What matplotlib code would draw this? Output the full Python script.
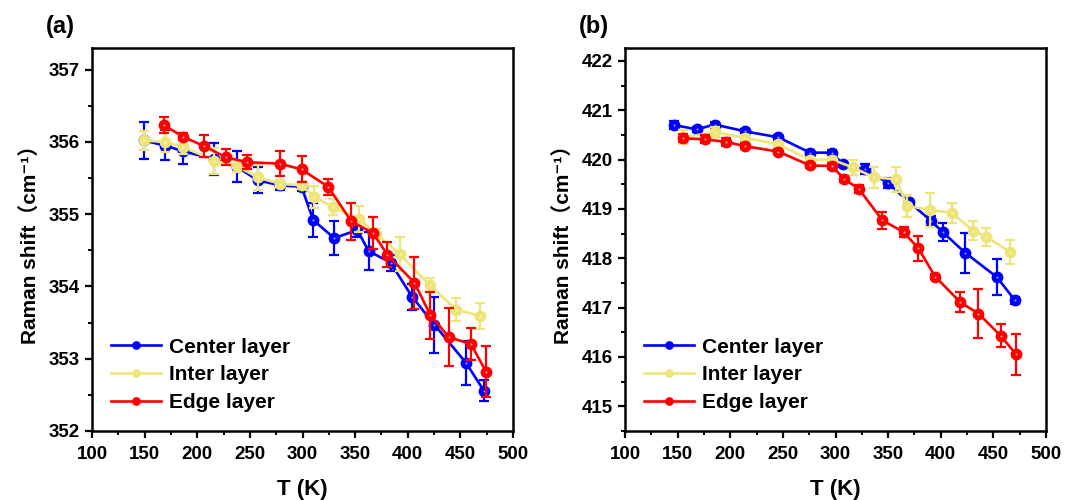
import matplotlib
matplotlib.use("Agg")
import matplotlib.pyplot as plt
from matplotlib.ticker import MultipleLocator

plt.rcParams['font.family'] = ['Liberation Sans', 'Noto Sans CJK SC', 'DejaVu Sans']
plt.rcParams['font.weight'] = 'bold'

# ---------------- Panel (a) data ----------------
a_center_T = [149.0, 169.5, 186.9, 216.3, 237.4, 257.3, 278.5, 299.1, 310.1, 330.0, 352.1, 362.8, 383.7, 404.0, 425.4, 455.5, 472.2]
a_center_v = [356.02, 355.95, 355.87, 355.76, 355.66, 355.47, 355.40, 355.38, 354.92, 354.67, 354.78, 354.49, 354.33, 353.86, 353.47, 352.94, 352.56]
a_center_e = [0.25, 0.20, 0.18, 0.22, 0.22, 0.18, 0.06, 0.06, 0.23, 0.23, 0.10, 0.26, 0.11, 0.18, 0.39, 0.31, 0.14]

a_inter_T = [149.0, 169.5, 186.9, 216.3, 237.4, 257.3, 278.5, 299.1, 311.1, 329.1, 353.4, 370.1, 392.2, 420.7, 446.0, 468.7]
a_inter_v = [356.02, 356.00, 355.93, 355.74, 355.67, 355.51, 355.42, 355.40, 355.24, 355.10, 354.94, 354.73, 354.45, 354.02, 353.68, 353.59]
a_inter_e = [0.13, 0.14, 0.10, 0.18, 0.08, 0.17, 0.05, 0.05, 0.15, 0.11, 0.18, 0.07, 0.23, 0.10, 0.16, 0.18]

a_edge_T = [168.5, 186.9, 206.8, 227.0, 246.9, 278.5, 299.1, 324.4, 346.4, 367.0, 380.6, 406.4, 421.6, 439.1, 460.2, 474.4]
a_edge_v = [356.23, 356.07, 355.94, 355.79, 355.72, 355.70, 355.62, 355.38, 354.90, 354.74, 354.44, 354.05, 353.60, 353.30, 353.20, 352.82]
a_edge_e = [0.11, 0.05, 0.15, 0.11, 0.10, 0.17, 0.18, 0.11, 0.25, 0.22, 0.17, 0.36, 0.33, 0.40, 0.22, 0.35]

# ---------------- Panel (b) data ----------------
b_center_T = [146.6, 168.1, 185.1, 214.4, 245.8, 275.8, 296.3, 307.5, 327.8, 349.8, 370.3, 390.8, 401.8, 423.3, 453.2, 470.5]
b_center_v = [420.70, 420.61, 420.71, 420.57, 420.45, 420.14, 420.14, 419.90, 419.80, 419.53, 419.13, 418.76, 418.53, 418.11, 417.62, 417.15]
b_center_e = [0.08, 0.05, 0.06, 0.05, 0.05, 0.06, 0.05, 0.06, 0.10, 0.10, 0.08, 0.10, 0.18, 0.41, 0.36, 0.07]

b_inter_T = [155.5, 185.1, 214.4, 245.8, 275.8, 296.3, 316.7, 336.3, 357.7, 367.8, 389.9, 410.3, 430.8, 443.4, 465.8]
b_inter_v = [420.45, 420.55, 420.44, 420.31, 419.99, 420.00, 419.84, 419.64, 419.60, 419.06, 418.98, 418.92, 418.56, 418.43, 418.13]
b_inter_e = [0.14, 0.10, 0.06, 0.05, 0.05, 0.05, 0.15, 0.21, 0.25, 0.23, 0.34, 0.20, 0.20, 0.19, 0.25]

b_edge_T = [155.5, 175.6, 195.5, 214.4, 245.8, 275.8, 296.3, 308.2, 322.4, 344.5, 364.7, 378.8, 394.6, 418.5, 435.8, 457.0, 471.7]
b_edge_v = [420.43, 420.41, 420.36, 420.27, 420.16, 419.88, 419.87, 419.61, 419.40, 418.77, 418.53, 418.20, 417.63, 417.11, 416.88, 416.43, 416.05]
b_edge_e = [0.08, 0.08, 0.08, 0.06, 0.05, 0.06, 0.06, 0.06, 0.08, 0.17, 0.10, 0.25, 0.05, 0.20, 0.50, 0.23, 0.42]

labels = ['Center layer', 'Inter layer', 'Edge layer']
colors = ['#0000FF', '#EEE57A', '#FF0000']

fig = plt.figure(figsize=(10.79, 5.0), dpi=100)
ax_a = fig.add_axes([92/1079, 1-431/500, 421/1079, 383/500])
ax_b = fig.add_axes([625/1079, 1-431/500, 421/1079, 383/500])


def draw(ax, series, ylim, yticks, tag):
    handles = []
    for z, ((T, v, e), lab, c) in enumerate(zip(series, labels, colors)):
        ax.errorbar(T, v, yerr=e, fmt='none', ecolor=c, elinewidth=1.6,
                    capsize=3.8, capthick=1.6, zorder=2 + z)
        ln, = ax.plot(T, v, color=c, lw=1.9, marker='o', ms=7.5, mfc=c, mec=c,
                      label=lab, zorder=2 + z)
        ax.plot(T, v, linestyle='none', marker='o', ms=1.5, mfc='white', mec='none',
                alpha=0.6, zorder=2 + z)
        handles.append(ln)
    ax.set_xlim(100, 500)
    ax.set_ylim(*ylim)
    ax.set_yticks(yticks)
    ax.xaxis.set_major_locator(MultipleLocator(50))
    ax.xaxis.set_minor_locator(MultipleLocator(25))
    ax.yaxis.set_minor_locator(MultipleLocator(0.5))
    ax.tick_params(which='major', direction='out', length=5, width=1.6, labelsize=13.5, pad=4)
    ax.tick_params(axis='x', which='major', pad=6)
    ax.tick_params(which='minor', direction='out', length=3, width=1.4)
    for s in ax.spines.values():
        s.set_linewidth(1.8)
    for lab in ax.get_xticklabels() + ax.get_yticklabels():
        lab.set_fontweight('bold')
    ax.set_xlabel('T (K)', fontsize=16, fontweight='bold', labelpad=11)
    ax.set_ylabel('Raman shift\uff08cm\u207b\u00b9\uff09', fontsize=15, fontweight='bold', labelpad=6)
    ax.text(-0.11, 1.057, tag, transform=ax.transAxes, fontsize=17, fontweight='bold',
            ha='left', va='center')
    leg = ax.legend(handles=handles, loc='lower left', bbox_to_anchor=(0.0, 0.0), frameon=False,
                    fontsize=15, handlelength=2.4, handletextpad=0.4, labelspacing=0.42,
                    borderaxespad=0.5, markerscale=0.7)
    for t in leg.get_texts():
        t.set_fontweight('bold')


draw(ax_a, [(a_center_T, a_center_v, a_center_e), (a_inter_T, a_inter_v, a_inter_e),
            (a_edge_T, a_edge_v, a_edge_e)], (352, 357.3), [352, 353, 354, 355, 356, 357], '(a)')
draw(ax_b, [(b_center_T, b_center_v, b_center_e), (b_inter_T, b_inter_v, b_inter_e),
            (b_edge_T, b_edge_v, b_edge_e)], (414.5, 422.26), [415, 416, 417, 418, 419, 420, 421, 422], '(b)')

fig.savefig('out.png', dpi=100)
